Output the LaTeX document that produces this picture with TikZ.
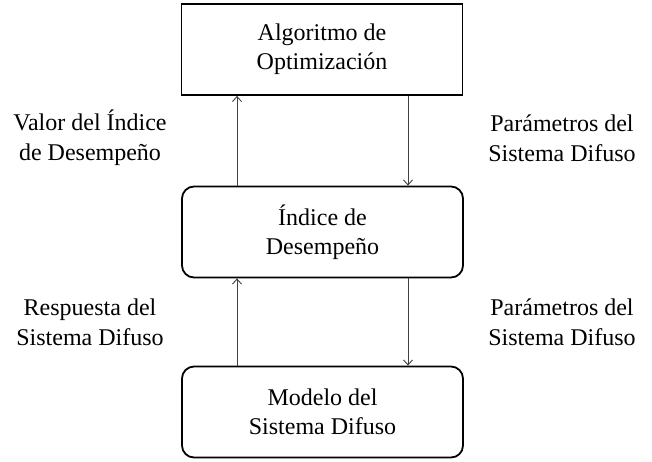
\documentclass[tikz,border=0pt]{standalone}
\usepackage{fontspec}
\setmainfont{Liberation Serif}
\usetikzlibrary{arrows.meta}
\begin{document}
\begin{tikzpicture}[x=1pt,y=-1pt,
  box/.style={draw=black,line width=1.8pt,minimum width=281pt,minimum height=91pt,inner sep=0pt,align=center,font=\fontsize{24}{29}\selectfont},
  rbox/.style={box,rounded corners=12pt},
  lbl/.style={align=center,inner sep=0pt,font=\fontsize{24}{30}\selectfont},
  arr/.style={draw=black!75,line width=0.9pt,-{Straight Barb[length=5pt,width=9pt]}}]
\useasboundingbox (0,0) rectangle (652,461);
\node[box] (opt) at (322,49.5) {Algoritmo de\\Optimización};
\node[rbox] (ind) at (322.5,232) {Índice de\\Desempeño};
\node[rbox] (mod) at (322.5,412) {Modelo del\\Sistema Difuso};
\coordinate (a1) at (237,0);
\coordinate (a2) at (408,0);
\draw[arr] (ind.north -| a1) -- (opt.south -| a1);
\draw[arr] (opt.south -| a2) -- (ind.north -| a2);
\draw[arr] (mod.north -| a1) -- (ind.south -| a1);
\draw[arr] (ind.south -| a2) -- (mod.north -| a2);
\node[lbl] (l1) at (90,138) {Valor del Índice\\de Desempeño};
\node[lbl] (r1) at (562,138) {Parámetros del\\Sistema Difuso};
\node[lbl] (l2) at (90,322) {Respuesta del\\Sistema Difuso};
\node[lbl] (r2) at (562,322) {Parámetros del\\Sistema Difuso};
\end{tikzpicture}
\end{document}
